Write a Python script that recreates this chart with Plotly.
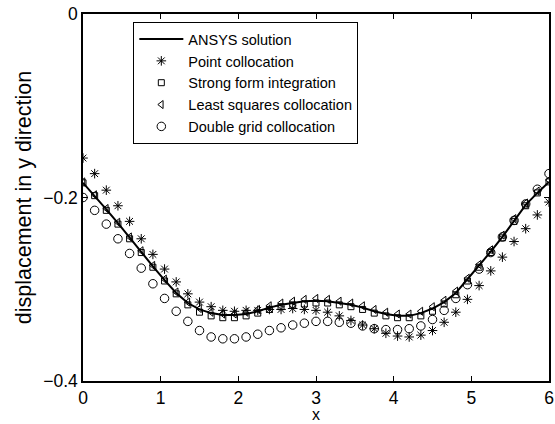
import plotly.graph_objects as go

x = [round(i * 0.15, 2) for i in range(41)]

ansys = [-0.184, -0.198, -0.213, -0.228, -0.244, -0.259, -0.275, -0.290, -0.304, -0.315,
         -0.322, -0.326, -0.328, -0.328, -0.327, -0.324, -0.320, -0.317, -0.315, -0.313,
         -0.3125, -0.313, -0.315, -0.317, -0.320, -0.324, -0.327, -0.329, -0.329, -0.326,
         -0.321, -0.314, -0.304, -0.289, -0.275, -0.259, -0.243, -0.225, -0.208, -0.195, -0.183]

point_colloc = [-0.157, -0.174, -0.192, -0.209, -0.226, -0.245, -0.262, -0.278, -0.292, -0.305,
                -0.314, -0.319, -0.323, -0.324, -0.323, -0.323, -0.322, -0.322, -0.321, -0.322,
                -0.323, -0.325, -0.329, -0.334, -0.339, -0.343, -0.348, -0.351, -0.352, -0.350,
                -0.345, -0.336, -0.325, -0.311, -0.296, -0.280, -0.265, -0.248, -0.234, -0.219, -0.205]

strong_form = [-0.184, -0.198, -0.214, -0.229, -0.245, -0.260, -0.276, -0.291, -0.305, -0.317,
               -0.325, -0.329, -0.331, -0.331, -0.329, -0.326, -0.322, -0.319, -0.317, -0.316,
               -0.315, -0.315, -0.317, -0.319, -0.322, -0.326, -0.329, -0.331, -0.331, -0.329,
               -0.324, -0.316, -0.306, -0.291, -0.276, -0.260, -0.244, -0.226, -0.209, -0.195, -0.183]

least_squares = [-0.183, -0.197, -0.212, -0.227, -0.243, -0.258, -0.274, -0.289, -0.303, -0.314,
                 -0.321, -0.325, -0.327, -0.327, -0.325, -0.322, -0.318, -0.315, -0.313, -0.311,
                 -0.310, -0.311, -0.313, -0.315, -0.318, -0.322, -0.325, -0.327, -0.327, -0.324,
                 -0.319, -0.312, -0.302, -0.288, -0.273, -0.257, -0.241, -0.223, -0.206, -0.193, -0.181]

double_grid = [-0.200, -0.214, -0.229, -0.245, -0.261, -0.277, -0.294, -0.310, -0.324, -0.335,
               -0.345, -0.352, -0.354, -0.354, -0.352, -0.349, -0.345, -0.342, -0.339, -0.337,
               -0.335, -0.335, -0.336, -0.337, -0.340, -0.343, -0.344, -0.344, -0.343, -0.340,
               -0.333, -0.323, -0.310, -0.295, -0.278, -0.260, -0.243, -0.225, -0.207, -0.191, -0.174]

x_ticks = [0, 1, 2, 3, 4, 5, 6]
y_ticks = [-0.4, -0.2, 0]
y_tick_labels = ["\u22120.4", "\u22120.2", "0"]

FONT = "Liberation Sans, Arial"

fig = go.Figure()
fig.add_trace(go.Scatter(x=x, y=ansys, mode="lines", name="ANSYS solution",
                         line=dict(color="black", width=2)))
fig.add_trace(go.Scatter(x=x, y=point_colloc, mode="markers", name="Point collocation",
                         marker=dict(symbol="asterisk-open", size=8, color="black",
                                     line=dict(color="black", width=1))))
fig.add_trace(go.Scatter(x=x, y=strong_form, mode="markers", name="Strong form integration",
                         marker=dict(symbol="square-open", size=6, color="black",
                                     line=dict(color="black", width=1))))
fig.add_trace(go.Scatter(x=x, y=least_squares, mode="markers", name="Least squares collocation",
                         marker=dict(symbol="triangle-left-open", size=7, color="black",
                                     line=dict(color="black", width=1))))
fig.add_trace(go.Scatter(x=x, y=double_grid, mode="markers", name="Double grid collocation",
                         marker=dict(symbol="circle-open", size=8.5, color="black",
                                     line=dict(color="black", width=1))))

axis_common = dict(showgrid=False, zeroline=False, showline=True, linecolor="black",
                   linewidth=1.5, mirror="ticks", ticks="inside", ticklen=5,
                   tickcolor="black", automargin=False,
                   tickfont=dict(family=FONT, size=17.5, color="black"))

fig.update_layout(
    width=555, height=424,
    margin=dict(l=83, r=6, t=14, b=43),
    paper_bgcolor="white", plot_bgcolor="white",
    font=dict(family=FONT, size=17.5, color="black"),
    showlegend=True,
    legend=dict(x=0.108, y=0.978, xanchor="left", yanchor="top",
                bgcolor="white", bordercolor="black", borderwidth=1,
                font=dict(family=FONT, size=14.5), tracegroupgap=0, itemwidth=44),
    xaxis=dict(range=[0, 6], tickvals=x_ticks, ticklabelstandoff=0, **axis_common),
    yaxis=dict(range=[-0.4, 0], tickvals=y_ticks, ticktext=y_tick_labels,
               title=dict(text="displacement in y direction", standoff=6, font=dict(size=21.5)),
               **axis_common),
    annotations=[dict(text="x", xref="paper", yref="paper", x=0.5, y=-0.09,
                      xanchor="center", yanchor="middle", showarrow=False,
                      font=dict(family=FONT, size=16, color="black"))],
)

fig.write_html("out.html")
